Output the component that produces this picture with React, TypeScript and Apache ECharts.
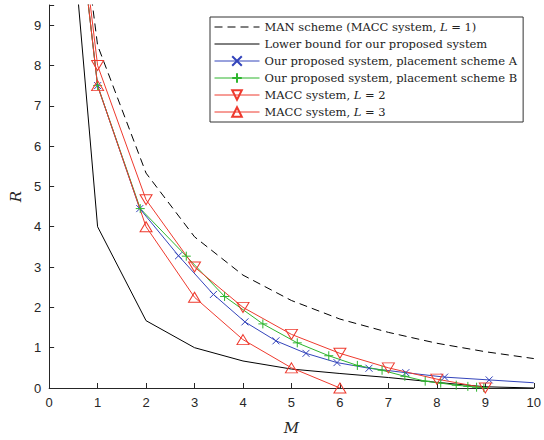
import React, { useEffect, useRef } from "react";
import * as echarts from "echarts";

// Integer cache sizes
const mInt = [0, 1, 2, 3, 4, 5, 6, 7, 8, 9, 10];
const manScheme = [18, 8.5, 5.33, 3.75, 2.8, 2.17, 1.71, 1.38, 1.11, 0.9, 0.73];
const lowerBound = [18, 4, 1.67, 1, 0.67, 0.47, 0.36, 0.26, 0.14, 0.03, 0];
const macc2 = [18, 8, 4.67, 3, 2, 1.33, 0.86, 0.5, 0.22, 0];
const macc3 = [18, 7.5, 4, 2.25, 1.2, 0.5, 0];

const schemeAM = [0, 1, 1.87, 2.67, 3.39, 4.04, 4.68, 5.3, 5.94, 6.6, 7.36, 8.16, 9.08, 10];
const schemeAR = [18, 7.5, 4.45, 3.28, 2.32, 1.64, 1.17, 0.86, 0.63, 0.49, 0.38, 0.27, 0.2, 0.13];
const schemeBM = [0, 1, 1.88, 2.83, 3.62, 4.41, 5.12, 5.77, 6.36, 6.87, 7.34, 7.76, 8.08, 8.4, 8.64, 8.82, 8.97];
const schemeBR = [18, 7.5, 4.45, 3.27, 2.27, 1.59, 1.12, 0.8, 0.56, 0.44, 0.29, 0.17, 0.12, 0.07, 0.04, 0.02, 0.01];

const names = [
  "MAN scheme (MACC system, L = 1)",
  "Lower bound for our proposed system",
  "Our proposed system, placement scheme A",
  "Our proposed system, placement scheme B",
  "MACC system, L = 2",
  "MACC system, L = 3",
];

const BLUE = "#3344bb";
const GREEN = "#2fb52f";
const RED = "#ee3a2e";

const pair = (xs: number[], ys: number[]) => ys.map((y, i) => [xs[i], y]);

export default function App() {
  const ref = useRef<HTMLDivElement>(null);
  useEffect(() => {
    const chart = echarts.init(ref.current!, null, { renderer: "svg" });
    const serif = "'DejaVu Serif', serif";
    const sans = "'Liberation Sans', Arial, sans-serif";
    const legendRich = {
      n: { fontFamily: serif, fontSize: 11.5, color: "#222" },
      i: { fontFamily: serif, fontSize: 11.5, fontStyle: "italic", color: "#222" },
    };
    const fmtLegend = (name: string) => {
      const m = name.match(/^(.*)L( = \d\)?)$/);
      if (m) return `{n|${m[1]}}{i|L}{n|${m[2]}}`;
      return `{n|${name}}`;
    };
    const crossPath = "path://M0,0L10,10M10,0L0,10";
    const plusPath = "path://M5,0L5,10M0,5L10,5";
    const downTri = "path://M0,0L12,0L6,10Z";
    const upTri = "path://M6,0L12,10L0,10Z";

    chart.setOption({
      animation: false,
      grid: { left: 45, right: 7, top: 5, bottom: 46 },
      legend: {
        left: 210,
        top: 17,
        orient: "vertical",
        itemWidth: 45,
        itemHeight: 12,
        itemGap: 5,
        padding: [4, 6, 4, 4],
        borderColor: "#333",
        borderWidth: 1,
        backgroundColor: "#fff",
        lineStyle: { width: 1 },
        data: names.map((n, i) =>
          i < 2 ? { name: n, itemStyle: { opacity: 0 } } : { name: n }
        ),
        formatter: fmtLegend,
        textStyle: { rich: legendRich, fontFamily: serif, fontSize: 11.5 },
      },
      xAxis: {
        type: "value",
        min: 0,
        max: 10,
        interval: 1,
        name: "M",
        nameLocation: "middle",
        nameGap: 32,
        nameTextStyle: { fontFamily: serif, fontStyle: "italic", fontSize: 15, color: "#262626" },
        axisLine: { lineStyle: { color: "#262626" } },
        axisTick: { inside: true, length: 5, lineStyle: { color: "#262626" } },
        axisLabel: { fontFamily: sans, fontSize: 13, color: "#262626", margin: 8 },
        splitLine: { show: false },
      },
      yAxis: {
        type: "value",
        min: 0,
        max: 9.5,
        interval: 1,
        name: "R",
        nameLocation: "middle",
        nameGap: 24,
        nameRotate: 90,
        nameTextStyle: { fontFamily: serif, fontStyle: "italic", fontSize: 15, color: "#262626" },
        axisLine: { show: true, lineStyle: { color: "#262626" } },
        axisTick: { show: true, inside: true, length: 5, lineStyle: { color: "#262626" } },
        axisLabel: {
          fontFamily: sans,
          fontSize: 13,
          color: "#262626",
          margin: 8,
          formatter: (v: number) => (Number.isInteger(v) ? String(v) : ""),
        },
        splitLine: { show: false },
      },
      series: [
        {
          name: names[0],
          type: "line",
          data: pair(mInt, manScheme),
          symbol: "none",
          lineStyle: { color: "#000", width: 1, type: [8, 5] },
          itemStyle: { color: "#000" },
        },
        {
          name: names[1],
          type: "line",
          data: pair(mInt, lowerBound),
          symbol: "none",
          lineStyle: { color: "#000", width: 1 },
          itemStyle: { color: "#000" },
        },
        {
          name: names[2],
          type: "line",
          data: pair(schemeAM, schemeAR).map((p, i) =>
            i === schemeAM.length - 1 ? { value: p, symbol: "none" } : p
          ),
          symbol: crossPath,
          symbolSize: 7,
          lineStyle: { color: BLUE, width: 1 },
          itemStyle: { color: BLUE, borderColor: BLUE, borderWidth: 1 },
        },
        {
          name: names[3],
          type: "line",
          data: pair(schemeBM, schemeBR),
          symbol: plusPath,
          symbolSize: 9,
          lineStyle: { color: GREEN, width: 1 },
          itemStyle: { color: GREEN, borderColor: GREEN, borderWidth: 1 },
        },
        {
          name: names[4],
          type: "line",
          data: pair(mInt, macc2),
          symbol: downTri,
          symbolSize: [12, 10],
          lineStyle: { color: RED, width: 1 },
          itemStyle: { color: "rgba(0,0,0,0)", borderColor: RED, borderWidth: 1 },
        },
        {
          name: names[5],
          type: "line",
          data: pair(mInt, macc3),
          symbol: upTri,
          symbolSize: [12, 10],
          lineStyle: { color: RED, width: 1 },
          itemStyle: { color: "rgba(0,0,0,0)", borderColor: RED, borderWidth: 1 },
        },
      ],
    });
    return () => chart.dispose();
  }, []);
  return <div ref={ref} style={{ width: 544, height: 440, position: "absolute", left: 0, top: 0 }} />;
}
